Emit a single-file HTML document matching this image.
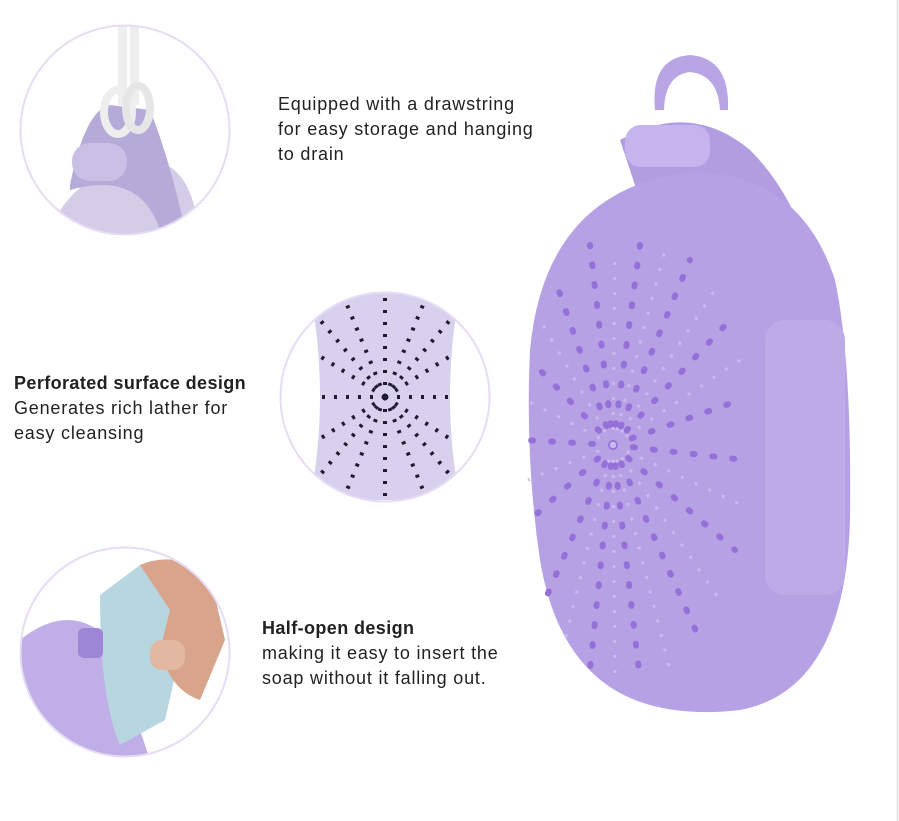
<!DOCTYPE html>
<html><head><style>
body{margin:0;background:#fff;width:899px;height:821px;overflow:hidden;position:relative;font-family:"Liberation Sans",sans-serif;color:#222}
.t{position:absolute;font-size:18px;line-height:25px;letter-spacing:0.8px}
b{font-weight:bold;letter-spacing:0.4px}
</style></head><body>
<svg width="899" height="821" style="position:absolute;left:0;top:0">
<line x1="897.5" y1="0" x2="897.5" y2="821" stroke="#e4e4e4" stroke-width="2"/>
<defs>
<clipPath id="c1"><circle cx="125" cy="130" r="104"/></clipPath>
<clipPath id="c2"><circle cx="385" cy="397" r="104"/></clipPath>
<clipPath id="c3"><circle cx="125" cy="652" r="104"/></clipPath>
</defs>
<g clip-path="url(#c1)">
<path d="M40 260 Q60 170 150 160 Q200 165 200 260Z" fill="#d3cde8"/>
<path d="M70 185 Q85 110 110 105 L150 110 Q170 160 185 230 L160 230 Q140 170 70 190Z" fill="#b5abd8"/>
<rect x="72" y="143" width="55" height="38" rx="18" fill="#c8c0e5"/>
<rect x="118" y="20" width="9" height="85" fill="#eee"/><rect x="130" y="20" width="9" height="85" fill="#eee"/>
<ellipse cx="118" cy="112" rx="14" ry="22" fill="none" stroke="#eee" stroke-width="8"/>
<ellipse cx="138" cy="108" rx="12" ry="22" fill="none" stroke="#e6e6e6" stroke-width="8"/>
</g>
<circle cx="125" cy="130" r="104.5" fill="none" stroke="#e6dcf5" stroke-width="2"/>
<g clip-path="url(#c2)">
<path d="M310 290 L460 290 Q440 397 460 500 L310 500 Q330 397 310 290Z" fill="#d8d1ee"/>
<circle cx="385" cy="397" r="2" fill="#2a2540"/>
<g stroke="#1f1b30" stroke-width="4" stroke-dasharray="3 9" fill="none">
<path d="M385 397 L385 295"/><path d="M385 397 L385 500"/><path d="M385 397 L320 320"/><path d="M385 397 L450 320"/>
<path d="M385 397 L320 475"/><path d="M385 397 L450 475"/><path d="M385 397 L315 397"/><path d="M385 397 L455 397"/>
<path d="M385 397 L345 300"/><path d="M385 397 L425 300"/><path d="M385 397 L345 495"/><path d="M385 397 L425 495"/>
<path d="M385 397 L318 355"/><path d="M385 397 L452 355"/><path d="M385 397 L318 440"/><path d="M385 397 L452 440"/>
</g>
</g>
<circle cx="385" cy="397" r="104.5" fill="none" stroke="#e6dcf5" stroke-width="2"/>
<g clip-path="url(#c3)">
<path d="M20 640 Q70 600 110 640 L150 760 L20 760Z" fill="#c0aee6"/>
<path d="M100 595 L140 565 L190 610 L165 720 L120 745 Q100 700 100 595Z" fill="#b8d6e0"/>
<path d="M140 565 Q175 550 210 575 L225 640 L200 700 Q170 690 160 650 L170 610Z" fill="#d8a58c"/>
<rect x="150" y="640" width="35" height="30" rx="12" fill="#e2b8a2"/>
<rect x="78" y="628" width="25" height="30" rx="6" fill="#9d86d6"/>
</g>
<circle cx="125" cy="652" r="104.5" fill="none" stroke="#e6dcf5" stroke-width="2"/>
<path d="M655 110 Q650 58 690 55 Q730 58 728 110 L720 110 Q718 75 690 72 Q665 75 664 110Z" fill="#b9a5e4"/>
<path d="M620 140 Q690 100 750 150 Q800 200 815 280 L820 330 L640 200Z" fill="#b29de0"/>
<path d="M690 172 Q800 172 835 280 Q852 360 850 520 Q845 690 740 710 Q690 716 650 705 Q560 680 540 560 Q525 460 530 350 Q545 190 690 172Z" fill="#b7a1e5"/>
<rect x="625" y="125" width="85" height="42" rx="16" fill="#c6b4ec"/>
<rect x="765" y="320" width="80" height="275" rx="20" fill="#bfaae8"/>
<g stroke="#9570d9" stroke-width="6" stroke-dasharray="2 18" stroke-linecap="round" fill="none">
<path d="M613 445 L590 245"/><path d="M613 445 L640 245"/><path d="M613 445 L690 260"/><path d="M613 445 L730 320"/>
<path d="M613 445 L740 400"/><path d="M613 445 L745 460"/><path d="M613 445 L735 550"/><path d="M613 445 L700 640"/>
<path d="M613 445 L640 680"/><path d="M613 445 L590 670"/><path d="M613 445 L545 600"/><path d="M613 445 L530 520"/>
<path d="M613 445 L525 440"/><path d="M613 445 L530 360"/><path d="M613 445 L555 280"/>
</g>
<g stroke="#cbbaf0" stroke-width="3" stroke-dasharray="3 12" fill="none">
<path d="M613 445 L615 250"/><path d="M613 445 L665 250"/><path d="M613 445 L715 290"/><path d="M613 445 L740 360"/>
<path d="M613 445 L742 505"/><path d="M613 445 L720 600"/><path d="M613 445 L670 670"/><path d="M613 445 L615 680"/>
<path d="M613 445 L565 640"/><path d="M613 445 L528 480"/><path d="M613 445 L526 400"/><path d="M613 445 L540 320"/>
</g>
</svg>
<div class="t" style="left:278px;top:92px">Equipped with a drawstring<br>for easy storage and hanging<br>to drain</div>
<div class="t" style="left:14px;top:371px"><b>Perforated surface design</b><br>Generates rich lather for<br>easy cleansing</div>
<div class="t" style="left:262px;top:616px"><b>Half-open design</b><br>making it easy to insert the<br>soap without it falling out.</div>
</body></html>
